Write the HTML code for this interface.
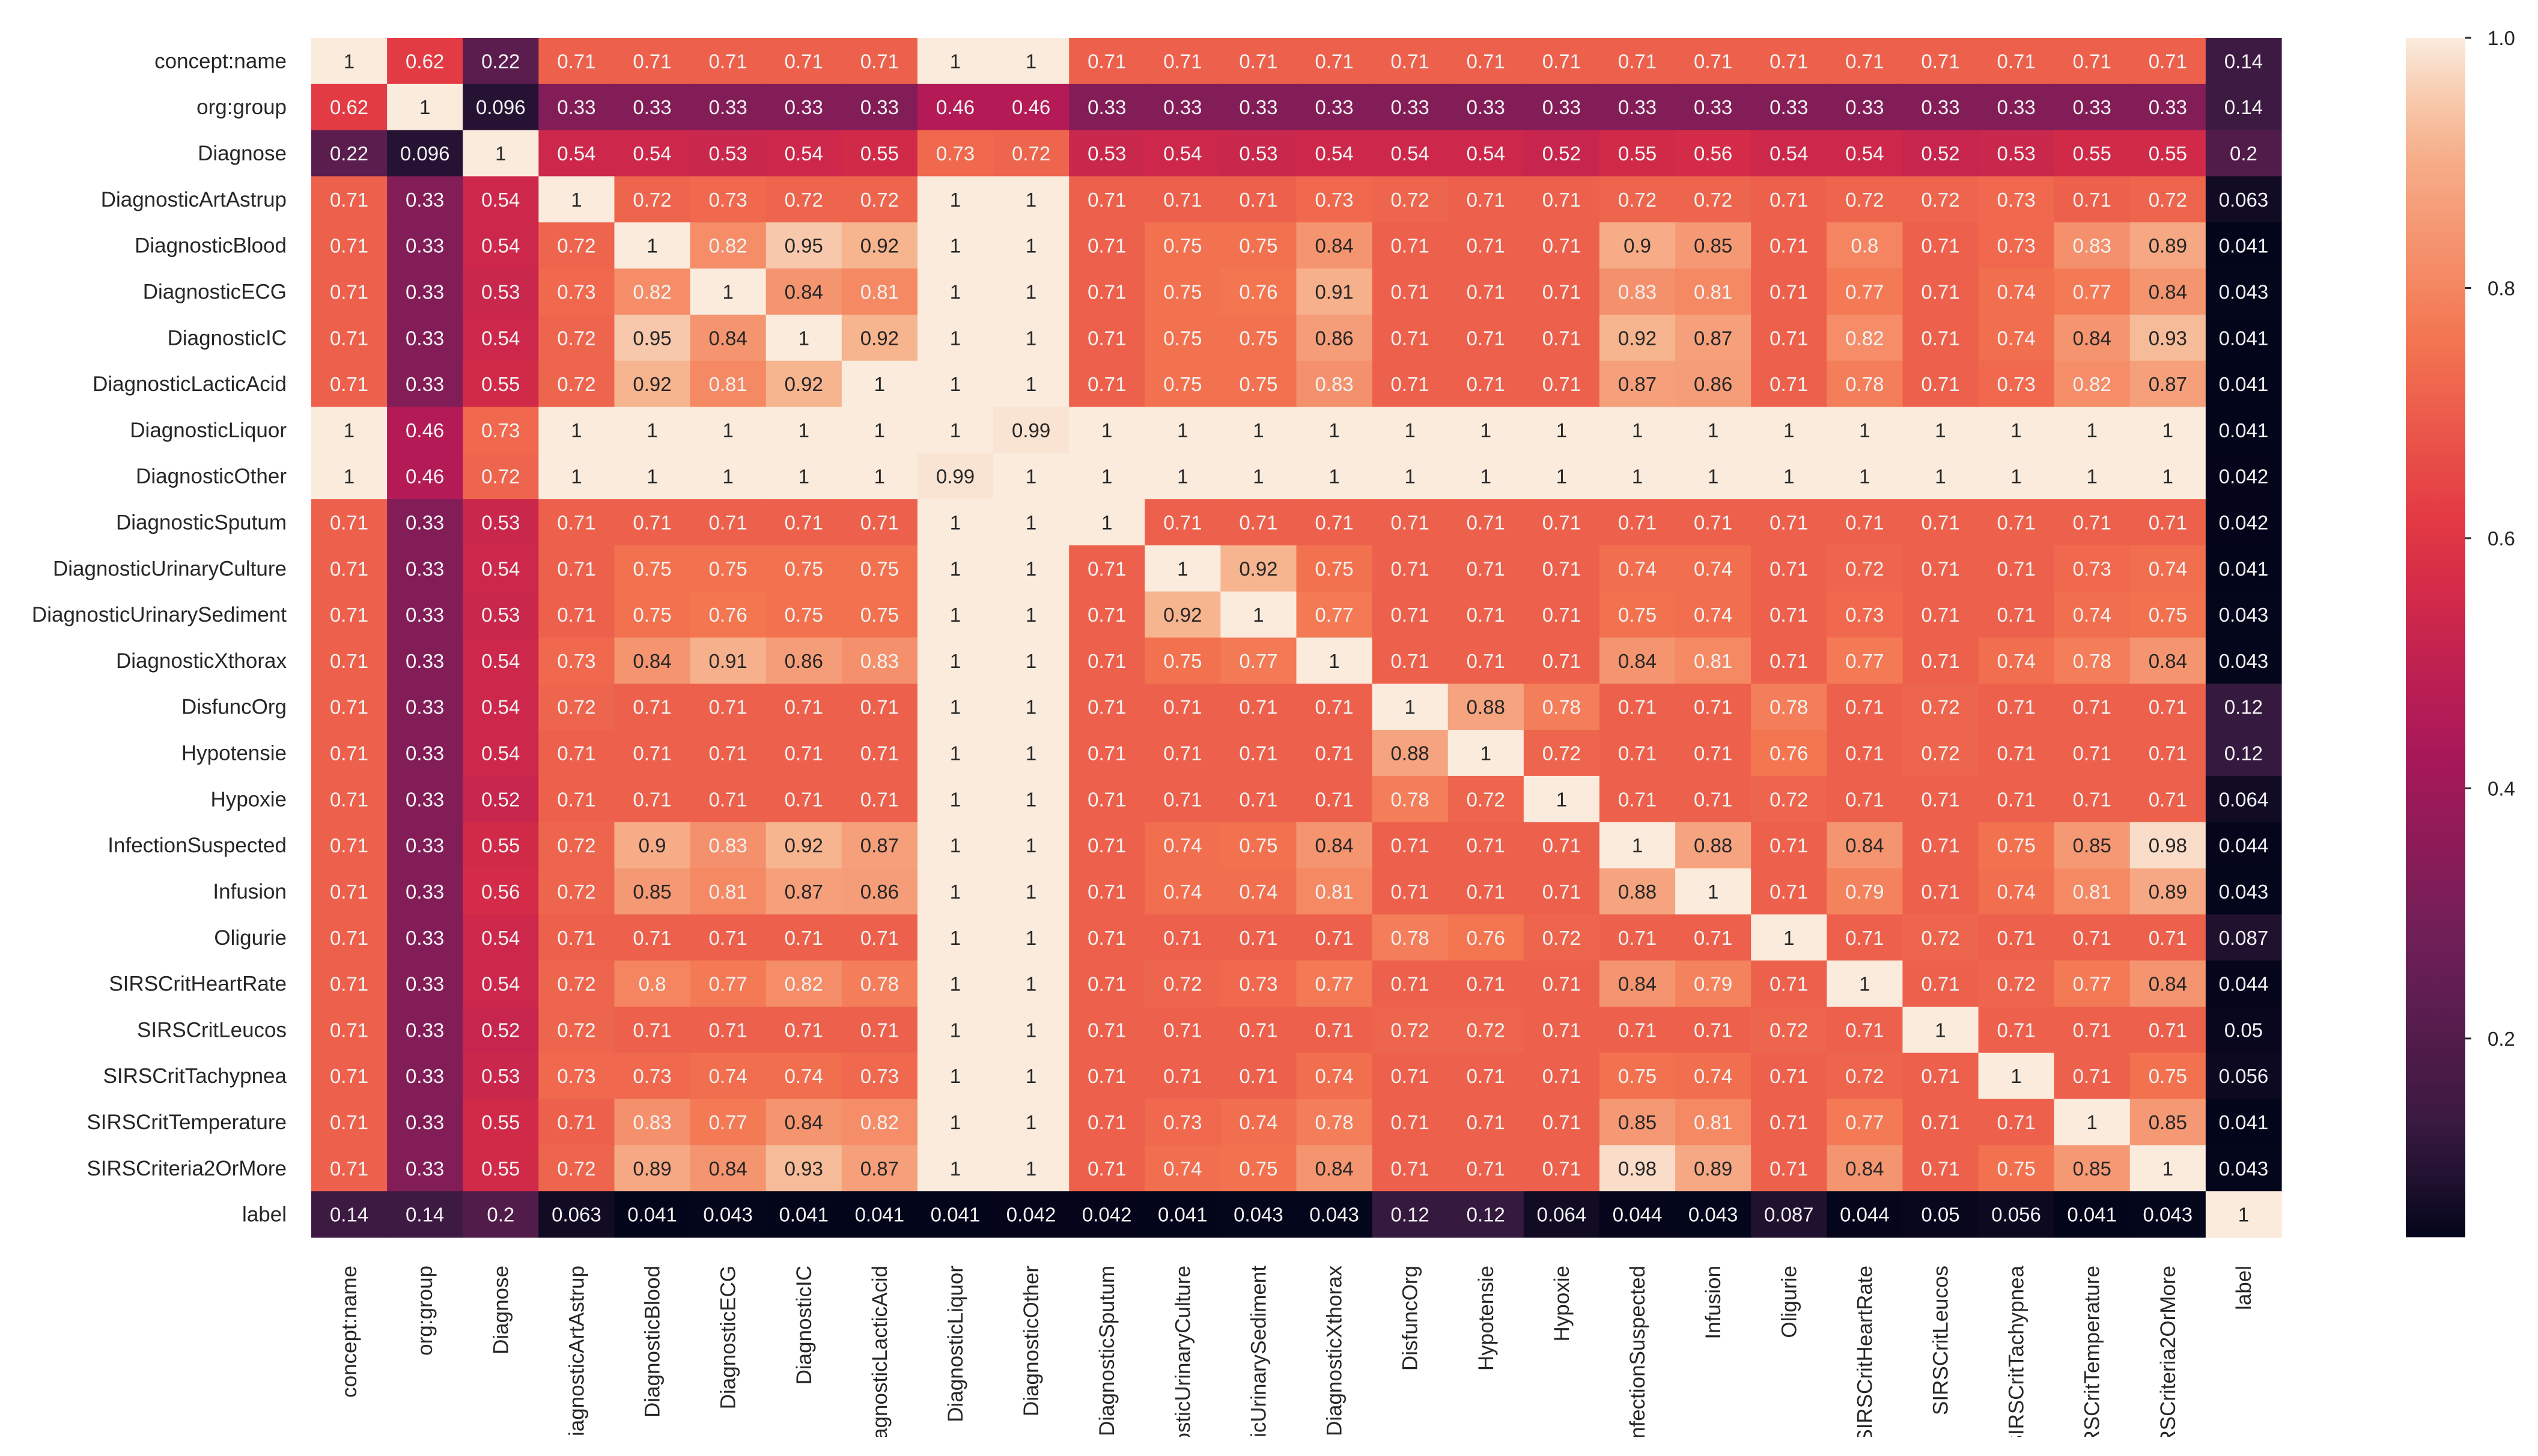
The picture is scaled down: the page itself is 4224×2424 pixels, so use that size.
<!DOCTYPE html>
<html><head><meta charset="utf-8">
<style>
html,body{margin:0;padding:0;background:#fff;}
svg{display:block;font-family:"Liberation Sans",sans-serif;}
</style></head>
<body>
<svg id="chart" width="4224" height="2424" viewBox="0 0 4224 2424" xmlns="http://www.w3.org/2000/svg">
<defs>
<clipPath id="clipAll"><rect x="0" y="0" width="4224" height="2392"/></clipPath>
<linearGradient id="cbGrad" x1="0" y1="1" x2="0" y2="0"></linearGradient>
</defs>
<g id="cells"></g>
<g id="ylabels"></g>
<g id="xlabels" clip-path="url(#clipAll)"></g>
<g id="colorbar"></g>
</svg>
<script>
const labels = ["concept:name","org:group","Diagnose","DiagnosticArtAstrup","DiagnosticBlood","DiagnosticECG","DiagnosticIC","DiagnosticLacticAcid","DiagnosticLiquor","DiagnosticOther","DiagnosticSputum","DiagnosticUrinaryCulture","DiagnosticUrinarySediment","DiagnosticXthorax","DisfuncOrg","Hypotensie","Hypoxie","InfectionSuspected","Infusion","Oligurie","SIRSCritHeartRate","SIRSCritLeucos","SIRSCritTachypnea","SIRSCritTemperature","SIRSCriteria2OrMore","label"];
const values = [
[1,.62,.22,.71,.71,.71,.71,.71,1,1,.71,.71,.71,.71,.71,.71,.71,.71,.71,.71,.71,.71,.71,.71,.71,.14],
[.62,1,.096,.33,.33,.33,.33,.33,.46,.46,.33,.33,.33,.33,.33,.33,.33,.33,.33,.33,.33,.33,.33,.33,.33,.14],
[.22,.096,1,.54,.54,.53,.54,.55,.73,.72,.53,.54,.53,.54,.54,.54,.52,.55,.56,.54,.54,.52,.53,.55,.55,.2],
[.71,.33,.54,1,.72,.73,.72,.72,1,1,.71,.71,.71,.73,.72,.71,.71,.72,.72,.71,.72,.72,.73,.71,.72,.063],
[.71,.33,.54,.72,1,.82,.95,.92,1,1,.71,.75,.75,.84,.71,.71,.71,.9,.85,.71,.8,.71,.73,.83,.89,.041],
[.71,.33,.53,.73,.82,1,.84,.81,1,1,.71,.75,.76,.91,.71,.71,.71,.83,.81,.71,.77,.71,.74,.77,.84,.043],
[.71,.33,.54,.72,.95,.84,1,.92,1,1,.71,.75,.75,.86,.71,.71,.71,.92,.87,.71,.82,.71,.74,.84,.93,.041],
[.71,.33,.55,.72,.92,.81,.92,1,1,1,.71,.75,.75,.83,.71,.71,.71,.87,.86,.71,.78,.71,.73,.82,.87,.041],
[1,.46,.73,1,1,1,1,1,1,.99,1,1,1,1,1,1,1,1,1,1,1,1,1,1,1,.041],
[1,.46,.72,1,1,1,1,1,.99,1,1,1,1,1,1,1,1,1,1,1,1,1,1,1,1,.042],
[.71,.33,.53,.71,.71,.71,.71,.71,1,1,1,.71,.71,.71,.71,.71,.71,.71,.71,.71,.71,.71,.71,.71,.71,.042],
[.71,.33,.54,.71,.75,.75,.75,.75,1,1,.71,1,.92,.75,.71,.71,.71,.74,.74,.71,.72,.71,.71,.73,.74,.041],
[.71,.33,.53,.71,.75,.76,.75,.75,1,1,.71,.92,1,.77,.71,.71,.71,.75,.74,.71,.73,.71,.71,.74,.75,.043],
[.71,.33,.54,.73,.84,.91,.86,.83,1,1,.71,.75,.77,1,.71,.71,.71,.84,.81,.71,.77,.71,.74,.78,.84,.043],
[.71,.33,.54,.72,.71,.71,.71,.71,1,1,.71,.71,.71,.71,1,.88,.78,.71,.71,.78,.71,.72,.71,.71,.71,.12],
[.71,.33,.54,.71,.71,.71,.71,.71,1,1,.71,.71,.71,.71,.88,1,.72,.71,.71,.76,.71,.72,.71,.71,.71,.12],
[.71,.33,.52,.71,.71,.71,.71,.71,1,1,.71,.71,.71,.71,.78,.72,1,.71,.71,.72,.71,.71,.71,.71,.71,.064],
[.71,.33,.55,.72,.9,.83,.92,.87,1,1,.71,.74,.75,.84,.71,.71,.71,1,.88,.71,.84,.71,.75,.85,.98,.044],
[.71,.33,.56,.72,.85,.81,.87,.86,1,1,.71,.74,.74,.81,.71,.71,.71,.88,1,.71,.79,.71,.74,.81,.89,.043],
[.71,.33,.54,.71,.71,.71,.71,.71,1,1,.71,.71,.71,.71,.78,.76,.72,.71,.71,1,.71,.72,.71,.71,.71,.087],
[.71,.33,.54,.72,.8,.77,.82,.78,1,1,.71,.72,.73,.77,.71,.71,.71,.84,.79,.71,1,.71,.72,.77,.84,.044],
[.71,.33,.52,.72,.71,.71,.71,.71,1,1,.71,.71,.71,.71,.72,.72,.71,.71,.71,.72,.71,1,.71,.71,.71,.05],
[.71,.33,.53,.73,.73,.74,.74,.73,1,1,.71,.71,.71,.74,.71,.71,.71,.75,.74,.71,.72,.71,1,.71,.75,.056],
[.71,.33,.55,.71,.83,.77,.84,.82,1,1,.71,.73,.74,.78,.71,.71,.71,.85,.81,.71,.77,.71,.71,1,.85,.041],
[.71,.33,.55,.72,.89,.84,.93,.87,1,1,.71,.74,.75,.84,.71,.71,.71,.98,.89,.71,.84,.71,.75,.85,1,.043],
[.14,.14,.2,.063,.041,.043,.041,.041,.041,.042,.042,.041,.043,.043,.12,.12,.064,.044,.043,.087,.044,.05,.056,.041,.043,1]
];
const cbTicks = [0.2,0.4,0.6,0.8,1.0];
const cbTickLabels = ["0.2","0.4","0.6","0.8","1.0"];
const vmin = 0.041, vmax = 1.0;

const NS = "http://www.w3.org/2000/svg";
const X0 = 518, Y0 = 63, X1 = 3797, Y1 = 2060;
const n = labels.length;
const cw = (X1 - X0) / n, ch = (Y1 - Y0) / n;
function xPos(i){ return X0 + i * cw; }
function yPos(i){ return Y0 + i * ch; }

const stops = [[0,[3,5,26]],[0.083,[53,25,62]],[0.25,[112,31,87]],[0.417,[173,23,89]],[0.583,[225,51,66]],[0.75,[243,118,81]],[0.917,[246,180,143]],[1,[250,235,221]]];
function rocket(t){
  t = Math.max(0, Math.min(1, t));
  for (let k = 1; k < stops.length; k++){
    if (t <= stops[k][0]){
      const a = stops[k-1], b = stops[k];
      const f = (t - a[0]) / (b[0] - a[0]);
      return a[1].map((c, j) => Math.round(c + (b[1][j] - c) * f));
    }
  }
  return stops[stops.length-1][1];
}
function norm(v){ return (v - vmin) / (vmax - vmin); }
function lum(rgb){
  const l = rgb.map(c => { c /= 255; return c <= 0.03928 ? c/12.92 : Math.pow((c+0.055)/1.055, 2.4); });
  return 0.2126*l[0] + 0.7152*l[1] + 0.0722*l[2];
}
function fmt(v){ return String(v).replace(/^0(?=\.)/, "0"); }

const cells = document.getElementById("cells");
for (let r = 0; r < n; r++){
  for (let c = 0; c < n; c++){
    const v = values[r][c];
    const rgb = rocket(norm(v));
    const rect = document.createElementNS(NS, "rect");
    rect.setAttribute("x", xPos(c)); rect.setAttribute("y", yPos(r));
    rect.setAttribute("width", cw + 0.6); rect.setAttribute("height", ch + 0.6);
    rect.setAttribute("fill", `rgb(${rgb.join(",")})`);
    
    
    cells.appendChild(rect);
    const t = document.createElementNS(NS, "text");
    t.setAttribute("x", xPos(c) + cw/2); t.setAttribute("y", yPos(r) + ch/2 + 12);
    t.setAttribute("text-anchor", "middle"); t.setAttribute("font-size", "33");
    t.setAttribute("fill", lum(rgb) > 0.408 ? "#262626" : "#f2f2f2");
    t.textContent = fmt(v);
    
    
    cells.appendChild(t);
  }
}

const yl = document.getElementById("ylabels");
const xl = document.getElementById("xlabels");
for (let i = 0; i < n; i++){
  const t = document.createElementNS(NS, "text");
  t.setAttribute("x", 477); t.setAttribute("y", yPos(i) + ch/2 + 12);
  t.setAttribute("text-anchor", "end"); t.setAttribute("font-size", "35"); t.setAttribute("fill", "#262626");
  t.textContent = labels[i];
  
  
  yl.appendChild(t);
  const u = document.createElementNS(NS, "text");
  const cx = xPos(i) + cw/2 + 12, cy = 2107;
  u.setAttribute("x", cx); u.setAttribute("y", cy);
  u.setAttribute("transform", `rotate(-90 ${cx} ${cy})`);
  u.setAttribute("text-anchor", "end"); u.setAttribute("font-size", "35"); u.setAttribute("fill", "#262626");
  u.textContent = labels[i];
  
  
  xl.appendChild(u);
}

// colorbar
const grad = document.getElementById("cbGrad");
for (let k = 0; k <= 20; k++){
  const s = document.createElementNS(NS, "stop");
  s.setAttribute("offset", k/20);
  s.setAttribute("stop-color", `rgb(${rocket(k/20).join(",")})`);
  grad.appendChild(s);
}
const CB_X = 4004, CB_W = 99;
function cbY(v){ return Y1 - norm(v) * (Y1 - Y0); }
const cb = document.getElementById("colorbar");
const bar = document.createElementNS(NS, "rect");
bar.setAttribute("x", CB_X); bar.setAttribute("y", Y0); bar.setAttribute("width", CB_W); bar.setAttribute("height", Y1 - Y0);
bar.setAttribute("fill", "url(#cbGrad)");


cb.appendChild(bar);
cbTicks.forEach((v, i) => {
  const y = cbY(v);
  const tk = document.createElementNS(NS, "line");
  tk.setAttribute("x1", CB_X + CB_W); tk.setAttribute("x2", CB_X + CB_W + 10);
  tk.setAttribute("y1", y); tk.setAttribute("y2", y);
  tk.setAttribute("stroke", "#262626"); tk.setAttribute("stroke-width", "3");
  
  
  cb.appendChild(tk);
  const t = document.createElementNS(NS, "text");
  t.setAttribute("x", 4140); t.setAttribute("y", y + 12);
  t.setAttribute("font-size", "33"); t.setAttribute("fill", "#262626");
  t.textContent = cbTickLabels[i];
  
  
  cb.appendChild(t);
});
</script>
</body></html>
